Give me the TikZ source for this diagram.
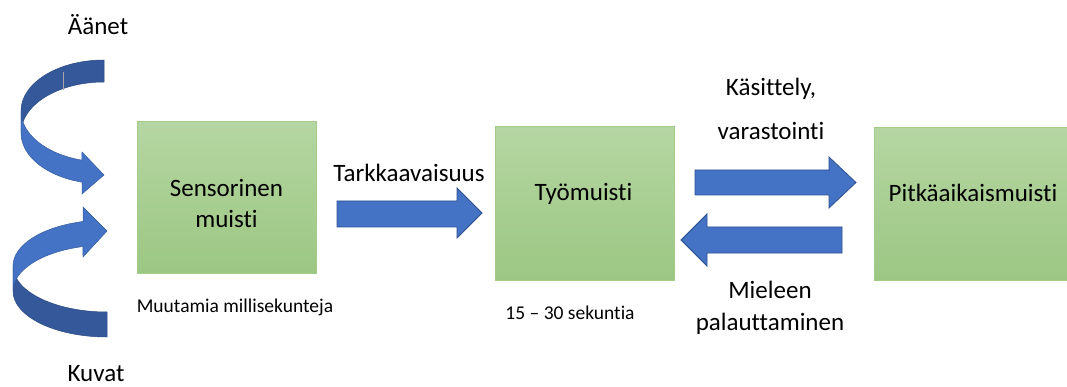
\documentclass[tikz,border=0pt]{standalone}
\usepackage{fontspec}
\setmainfont{Carlito}[Ligatures=CommonOff]
\definecolor{arrowblue}{HTML}{4472C4}
\definecolor{arrowedge}{HTML}{2F528F}
\definecolor{backblue}{HTML}{34589A}
\definecolor{boxtop}{HTML}{B5D6A2}
\definecolor{boxbottom}{HTML}{9CC783}
\definecolor{boxedge}{HTML}{A2CC88}
\begin{document}
\begin{tikzpicture}[x=1pt, y=-1pt,
  membox/.style={draw=boxedge, line width=1pt, top color=boxtop, bottom color=boxbottom,
    inner sep=0pt, outer sep=0pt},
  bigtext/.style={font=\fontsize{25}{31}\selectfont, inner sep=0pt, anchor=base},
  smalltext/.style={font=\fontsize{19.5}{24}\selectfont, inner sep=0pt, anchor=base},
  blockarrow/.style={fill=arrowblue, draw=arrowedge, line width=0.8pt, line join=miter},
  backface/.style={fill=backblue, draw=backblue!85!black, line width=0.5pt},
  frontface/.style={fill=arrowblue, draw=arrowedge!70!arrowblue, line width=0.5pt},
]
\useasboundingbox (0,0) rectangle (1067,387);
\clip (0,0) rectangle (1067,387);
\fill[white] (0,0) rectangle (1067,387);

% memory stores
\node[membox, minimum width=179pt, minimum height=151pt] (sens) at (226.5,197.5) {};
\node[membox, minimum width=179pt, minimum height=153pt] (tyo) at (584.5,203.5) {};
\node[membox, minimum width=198pt, minimum height=152pt] (pitka) at (973,204) {};

% multi-line nodes: the base anchor sits on the last line
\node[bigtext, align=center] (senstext) at (226.5,228) {Sensorinen\\muisti};
\node[bigtext] (tyotext) at (583.5,201) {Työmuisti};
\node[bigtext] (pitkatext) at (973,202) {Pitkäaikaismuisti};

% durations
\node[smalltext] (ms) at (235,312) {Muutamia millisekunteja};
\node[smalltext] (sek) at (570,319) {15 – 30 sekuntia};

% upper curved arrow (sounds)
\filldraw[backface] (104,60) arc[start angle=270, end angle=180, x radius=83, y radius=51]
  -- (21,133) arc[start angle=180, end angle=270, x radius=83, y radius=51] -- cycle;
\filldraw[frontface] (21,111) arc[start angle=180, end angle=105.4, x radius=83, y radius=51]
  -- (82,152) -- (104,175) -- (82,194) -- (82,182.2)
  arc[start angle=105.4, end angle=180, x radius=83, y radius=51] -- cycle;
\draw[gray!70, line width=0.7pt] (63,72) -- (63,90);

% lower curved arrow (images)
\filldraw[backface] (107,337) arc[start angle=90, end angle=180, x radius=94, y radius=46]
  -- (13,266) arc[start angle=180, end angle=90, x radius=94, y radius=46] -- cycle;
\filldraw[frontface] (13,291) arc[start angle=180, end angle=255.2, x radius=94, y radius=46]
  -- (83,257) -- (107,231) -- (83,207) -- (83,221.5)
  arc[start angle=255.2, end angle=180, x radius=94, y radius=46] -- cycle;

\node[bigtext] (aanet) at (98,35) {Äänet};
\node[bigtext] (kuvat) at (96,381) {Kuvat};

% attention
\node[bigtext] (tarkk) at (409,182) {Tarkkaavaisuus};
\filldraw[blockarrow] (337,201) -- (457,201) -- (457,188) -- (482,213) -- (457,238)
  -- (457,227) -- (337,227) -- cycle;

% encoding and retrieval
\node[bigtext, align=center, font=\fontsize{25}{44}\selectfont] (kas) at (771,140) {Käsittely,\\varastointi};
\filldraw[blockarrow] (695,170) -- (829,170) -- (829,157) -- (856,182.5) -- (829,208)
  -- (829,195) -- (695,195) -- cycle;
\filldraw[blockarrow] (842,227) -- (707,227) -- (707,214) -- (681,240) -- (707,266)
  -- (707,253) -- (842,253) -- cycle;
\node[bigtext, align=center, font=\fontsize{25}{32}\selectfont] (miel) at (770,330) {Mieleen\\palauttaminen};
\end{tikzpicture}
\end{document}
